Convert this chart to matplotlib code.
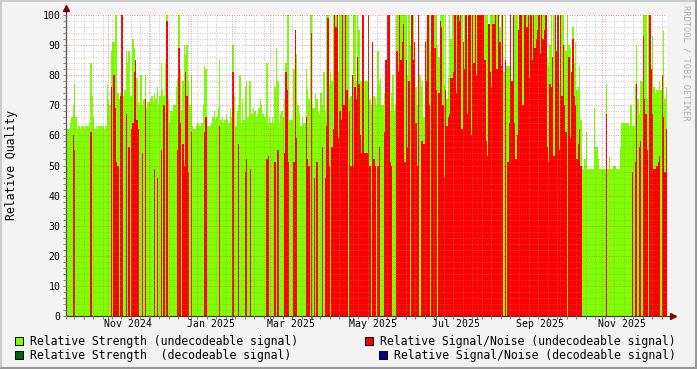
import matplotlib
matplotlib.use("Agg")
import matplotlib.pyplot as plt
import matplotlib.dates as mdates
from matplotlib.patches import Rectangle
from matplotlib.lines import Line2D
from matplotlib.ticker import MultipleLocator
import datetime as dt

# daily values, starting 2024-10-01
start = dt.date(2024, 10, 1)

# Relative Strength (undecodeable signal)
strength = [
    62, 62, 62, 64, 66, 70, 77, 66, 62, 63,
    62, 63, 63, 62, 63, 63, 63, 64, 84, 73,
    66, 62, 63, 62, 63, 63, 63, 63, 62, 63,
    77, 72, 70, 88, 91, 91, 100, 100, 74, 72,
    74, 100, 73, 75, 88, 84, 88, 73, 73, 92,
    89, 79, 79, 71, 70, 80, 70, 72, 80, 69,
    71, 71, 72, 73, 71, 74, 72, 76, 70, 73,
    84, 75, 73, 84, 100, 72, 64, 68, 68, 70,
    70, 76, 79, 100, 82, 68, 78, 90, 87, 90,
    78, 70, 80, 63, 62, 62, 63, 64, 63, 63,
    64, 70, 83, 82, 63, 63, 63, 64, 66, 68,
    65, 66, 69, 85, 65, 66, 64, 65, 67, 65,
    64, 69, 66, 90, 73, 63, 68, 70, 80, 64,
    72, 65, 76, 78, 66, 78, 78, 67, 69, 68,
    66, 67, 69, 72, 70, 67, 66, 66, 84, 64,
    66, 64, 66, 64, 76, 89, 78, 64, 67, 68,
    66, 72, 84, 100, 100, 65, 65, 65, 82, 95,
    87, 70, 67, 63, 66, 64, 64, 82, 75, 72,
    100, 100, 69, 69, 74, 72, 68, 67, 74, 70,
    81, 68, 100, 100, 77, 81, 78, 100, 100, 100,
    100, 81, 100, 100, 100, 100, 80, 100, 100, 72,
    73, 80, 100, 100, 78, 100, 95, 78, 78, 100,
    78, 78, 78, 100, 72, 70, 91, 73, 72, 70,
    88, 77, 79, 70, 70, 74, 85, 100, 100, 68,
    74, 80, 68, 70, 100, 100, 100, 100, 100, 100,
    100, 100, 80, 100, 90, 100, 100, 91, 76, 70,
    100, 80, 76, 78, 66, 91, 92, 100, 100, 88,
    100, 100, 100, 100, 90, 86, 100, 100, 100, 77,
    100, 72, 79, 100, 92, 100, 100, 100, 100, 100,
    100, 100, 100, 91, 100, 100, 92, 100, 100, 100,
    100, 100, 100, 100, 100, 100, 100, 100, 100, 100,
    100, 100, 97, 100, 100, 100, 100, 100, 100, 100,
    96, 100, 100, 81, 100, 83, 83, 83, 100, 78,
    100, 100, 100, 100, 95, 100, 100, 100, 100, 100,
    100, 100, 100, 100, 100, 100, 100, 100, 100, 100,
    100, 100, 100, 100, 100, 86, 83, 90, 100, 86,
    100, 100, 88, 100, 77, 100, 100, 100, 90, 88,
    100, 90, 89, 81, 96, 84, 91, 75, 76, 83,
    65, 50, 49, 52, 61, 49, 49, 49, 49, 49,
    69, 56, 56, 52, 49, 49, 49, 49, 49, 77,
    49, 53, 49, 49, 50, 50, 49, 49, 49, 56,
    64, 64, 64, 64, 64, 64, 63, 70, 63, 63,
    77, 90, 72, 67, 78, 78, 100, 100, 100, 72,
    100, 100, 82, 93, 76, 74, 75, 75, 78, 75,
    75, 95, 72, 76,
]

# Relative Signal/Noise (undecodeable signal)
snr = [
    0, 0, 0, 0, 0, 60, 55, 0, 0, 0,
    0, 0, 0, 0, 0, 0, 0, 0, 61, 0,
    0, 0, 0, 0, 0, 0, 0, 0, 0, 0,
    0, 0, 0, 76, 0, 80, 69, 51, 50, 0,
    73, 100, 0, 0, 67, 0, 56, 0, 62, 64,
    81, 85, 65, 62, 0, 0, 54, 0, 72, 0,
    0, 0, 0, 0, 0, 49, 0, 46, 0, 0,
    55, 0, 70, 0, 98, 0, 0, 0, 0, 0,
    0, 0, 55, 89, 64, 0, 57, 50, 81, 73,
    48, 0, 61, 0, 0, 0, 0, 0, 0, 0,
    0, 0, 61, 66, 0, 0, 0, 0, 0, 0,
    0, 0, 0, 63, 0, 0, 0, 0, 0, 0,
    0, 0, 0, 81, 0, 0, 0, 57, 0, 0,
    0, 0, 48, 52, 0, 0, 49, 0, 0, 0,
    0, 0, 0, 0, 0, 0, 0, 0, 52, 53,
    0, 0, 0, 0, 51, 0, 55, 0, 0, 0,
    0, 54, 81, 75, 51, 0, 0, 0, 51, 95,
    59, 0, 0, 0, 0, 0, 0, 66, 52, 50,
    0, 94, 0, 46, 0, 51, 0, 0, 0, 56,
    0, 46, 63, 99, 50, 0, 56, 62, 100, 96,
    100, 59, 68, 65, 100, 70, 100, 75, 0, 68,
    50, 80, 50, 76, 72, 86, 77, 60, 54, 100,
    54, 54, 54, 100, 50, 0, 91, 52, 50, 0,
    50, 56, 0, 0, 0, 61, 85, 100, 100, 51,
    50, 0, 0, 0, 88, 81, 100, 85, 91, 97,
    51, 85, 56, 78, 0, 100, 85, 91, 64, 50,
    100, 0, 58, 58, 57, 91, 78, 100, 70, 0,
    100, 100, 89, 75, 0, 74, 98, 96, 70, 46,
    75, 63, 66, 67, 79, 79, 81, 100, 74, 100,
    98, 100, 62, 91, 82, 100, 67, 100, 100, 60,
    100, 84, 100, 80, 100, 100, 100, 100, 100, 85,
    58, 53, 97, 81, 76, 97, 97, 100, 82, 100,
    91, 83, 100, 0, 85, 0, 51, 64, 100, 78,
    100, 64, 52, 60, 95, 100, 100, 70, 100, 100,
    96, 100, 79, 100, 85, 100, 89, 92, 95, 100,
    87, 100, 92, 95, 100, 56, 51, 77, 76, 86,
    53, 100, 88, 100, 55, 100, 73, 90, 70, 61,
    0, 86, 59, 81, 92, 73, 70, 52, 57, 62,
    50, 0, 0, 0, 0, 0, 0, 0, 0, 0,
    0, 0, 0, 0, 0, 0, 0, 0, 0, 67,
    0, 0, 0, 0, 0, 0, 0, 0, 0, 0,
    0, 0, 0, 0, 0, 0, 0, 0, 48, 0,
    51, 77, 0, 56, 58, 0, 93, 72, 67, 55,
    0, 100, 82, 67, 49, 49, 50, 51, 53, 0,
    80, 66, 48, 62,
]

label_text = ["Nov 2024", "Jan 2025", "Mar 2025", "May 2025",
              "Jul 2025", "Sep 2025", "Nov 2025"]
label_dates = [dt.date(2024, 11, 16), dt.date(2025, 1, 16), dt.date(2025, 3, 16),
               dt.date(2025, 5, 16), dt.date(2025, 7, 16), dt.date(2025, 9, 16),
               dt.date(2025, 11, 16)]

legend_items = [
    ("Relative Strength (undecodeable signal)", "#80FF00"),
    ("Relative Signal/Noise (undecodeable signal)", "#FF0000"),
    ("Relative Strength  (decodeable signal)", "#006600"),
    ("Relative Signal/Noise (decodeable signal)", "#000099"),
]

days = [start + dt.timedelta(days=i) for i in range(len(strength))]

W, H = 697, 369
fig = plt.figure(figsize=(W / 100, H / 100), dpi=100, facecolor="#F3F3F3")
ax = fig.add_axes([66 / W, 53 / H, 601 / W, 301 / H])
ax.set_facecolor("white")

ax.bar(days, strength, width=1.0, align="edge", color="#80FF00",
       linewidth=0, antialiased=False, zorder=1)
ax.bar(days, snr, width=1.0, align="edge", color="#FF0000",
       linewidth=0, antialiased=False, zorder=1.1)

ax.set_xlim(start, start + dt.timedelta(days=len(strength)))
ax.set_ylim(0, 100)

ax.xaxis.set_major_locator(mdates.MonthLocator())
ax.xaxis.set_minor_locator(mdates.WeekdayLocator(byweekday=mdates.MO))
ax.xaxis.set_major_formatter(plt.NullFormatter())
ax.yaxis.set_major_locator(MultipleLocator(10))
ax.yaxis.set_minor_locator(MultipleLocator(2))

ax.set_axisbelow(False)
ax.grid(which="minor", color="#909090", alpha=0.5, linestyle=(0, (1, 1.5)), linewidth=0.7)
ax.grid(which="major", color="#E05050", alpha=0.6, linestyle=(0, (1, 1.5)), linewidth=0.7)

mono = "DejaVu Sans Mono"
ax.tick_params(which="both", direction="out", length=2, width=0.7, color="#808080")
ax.tick_params(axis="y", labelsize=7.1, pad=2)
for t in ax.get_yticklabels():
    t.set_fontfamily(mono)

for d, s in zip(label_dates, label_text):
    ax.text(d, -0.027, s, transform=ax.get_xaxis_transform(), ha="center", va="center",
            fontsize=7.1, family=mono)

for sp in ["top", "right"]:
    ax.spines[sp].set_visible(False)
for sp in ["left", "bottom"]:
    ax.spines[sp].set_color("#404040")
    ax.spines[sp].set_linewidth(0.8)

# axis arrows
ax.plot([0, 0], [0, 1.022], transform=ax.transAxes, color="#404040", lw=0.8, clip_on=False)
ax.plot([0], [1.022], transform=ax.transAxes, marker="^", color="#800000",
        markersize=4, clip_on=False)
ax.plot([0, 1.01], [0, 0], transform=ax.transAxes, color="#404040", lw=0.8, clip_on=False)
ax.plot([1.01], [0], transform=ax.transAxes, marker=">", color="#800000",
        markersize=4, clip_on=False)

fig.text(12 / W, 1 - 165 / H, "Relative Quality", rotation=90, ha="center", va="center",
         fontsize=8.3, family=mono)
fig.text(686 / W, 1 - 5 / H, "RRDTOOL / TOBI OETIKER", rotation=270, ha="center", va="top",
         fontsize=6.2, family=mono, color="#B0B0B0")

# legend
pos = [(15, 341, 30), (365, 341, 380), (15, 355, 30), (379, 355, 394)]
for (txt, col), (bx, by, tx) in zip(legend_items, pos):
    fig.patches.append(Rectangle((bx / W, 1 - (by + 4) / H), 8 / W, 8 / H,
                                 transform=fig.transFigure, facecolor=col,
                                 edgecolor="black", linewidth=0.7))
    fig.text(tx / W, 1 - by / H, txt, ha="left", va="center", fontsize=8.3, family=mono)

# 3d frame around the image
fig.add_artist(Line2D([0, 1], [1 - 1 / H, 1 - 1 / H], transform=fig.transFigure, color="#CBCBCB", lw=1.5))
fig.add_artist(Line2D([1 / W, 1 / W], [0, 1], transform=fig.transFigure, color="#CBCBCB", lw=1.5))
fig.add_artist(Line2D([0, 1], [1 / H, 1 / H], transform=fig.transFigure, color="#999999", lw=1.5))
fig.add_artist(Line2D([1 - 1 / W, 1 - 1 / W], [0, 1], transform=fig.transFigure, color="#999999", lw=1.5))

fig.savefig("out.png", dpi=100, facecolor=fig.get_facecolor())
